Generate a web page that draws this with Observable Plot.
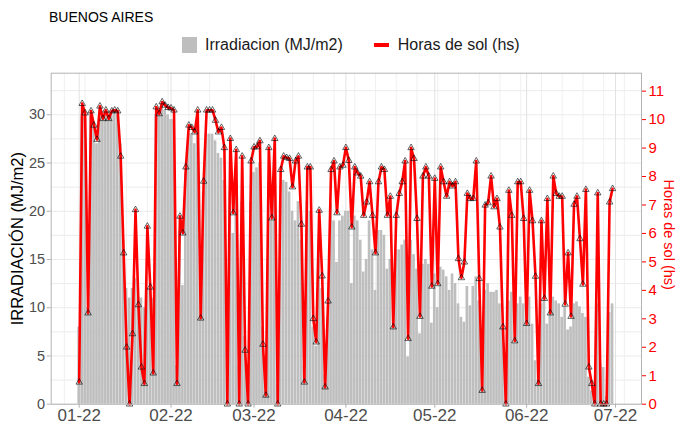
<!DOCTYPE html>
<html><head><meta charset="utf-8">
<script src="https://cdn.jsdelivr.net/npm/d3@7"></script>
<script src="https://cdn.jsdelivr.net/npm/@observablehq/plot@0.6"></script>
<style>
body{margin:0;background:#fff;font-family:"Liberation Sans",Arial,Helvetica,sans-serif;}
#wrap{position:relative;width:676px;height:425px;overflow:hidden;}
#title{position:absolute;left:49px;top:9px;font-size:14px;color:#000;}
#legend{position:absolute;top:36px;left:182px;height:18px;display:flex;align-items:center;font-size:16px;color:#1a1a1a;white-space:nowrap;}
#legend .sw{display:inline-block;width:15px;height:16px;background:#bebebe;margin-right:8px;}
#legend .ln{display:inline-block;width:15px;height:4px;background:#ff0000;margin-left:31px;margin-right:9px;}
#chart{position:absolute;left:0;top:65px;}
</style></head>
<body>
<div id="wrap">
  <div id="title">BUENOS AIRES</div>
  <div id="legend"><span class="sw"></span><span>Irradiacion (MJ/m2)</span><span class="ln"></span><span>Horas de sol (hs)</span></div>
  <div id="chart"></div>
</div>
<script>
// ---- data (daily, starting 2022-01-01) ----
const startDate = "2022-01-01";
const irradiacion = [
 8,30,30,10,30,29,27,30,29.5,30,29.5,30,30.5,30,27,17,12,11,12,13,11,11,10,12,12,11,30,30,31,30.5,30,
 29.5,29.5,4,18,12.3,24,28,28,27,29,12,22,28,28,28,27.3,26,25.5,23.2,6,22,17.7,22,4,21,7,3,21,
 24,24.5,25,8,3,23,19,24,2,21,23.2,23,22,20,19,21,17,4,21,20,8,6,17,12,3,9,20.8,19,14.7,19,19.5,
 20,20,12.5,19.5,19,17,13.7,15,19,16,11.8,18,18,17.5,14,15,8,16,16,16.5,17,4.9,17,15.5,14,7.3,14.5,15,14.5,8.4,
 13.5,10,14.2,13.9,13.2,11.8,13.5,12.5,10.4,9,8.5,12.2,10.2,12.2,13.2,10.7,4.9,11.8,12.5,11.6,11.6,11.8,10.4,8,5.2,10.7,11.6,6.3,10.4,11.1,10.4,
 8.3,11.1,8.3,4.5,2.5,10.4,11.1,8.3,9.7,11.1,10.7,10.4,9,10.1,7.7,8,10.4,10.6,10.1,9.4,9,2.8,1.4,0.4,10.4,4.2,3.8,0.8,9.5,10.4
];
const horasSol = [
 0.77,10.56,10.23,3.2,10.3,9.8,9.3,10.47,10.03,10.33,10.03,10.3,10.33,10.3,8.71,5.31,2.0,0,2.47,6.83,3.49,1.3,0.72,6.25,4.11,1.09,10.44,10.2,10.62,10.5,10.42,
 10.4,10.33,0.72,6.6,6.01,8.33,9.8,9.72,9.56,10.33,3.02,7.83,10.33,10.33,10.33,9.97,9.56,9.72,9.01,0,9.33,6.72,8.94,0,8.71,1.89,0,8.54,
 9.03,9.04,9.25,2.1,0.31,9.01,6.54,9.33,0,8.24,8.71,8.66,8.63,7.63,8.54,8.71,6.32,0.77,8.33,8.33,3.0,2.18,6.81,4.5,0.6,3.62,8.24,8.54,6.72,8.33,8.39,
 9.01,8.56,6.22,8.33,8.12,8.01,6.63,7.1,7.81,6.63,5.31,7.81,8.33,8.24,6.63,7.3,2.71,6.63,7.4,7.81,8.54,2.3,9.01,8.63,6.52,3.08,8.01,8.33,8.01,4.14,
 7.93,4.23,8.33,7.81,7.3,7.81,7.66,7.81,5.11,4.44,4.99,7.4,7.22,7.22,8.54,4.41,0.48,6.99,7.07,8.01,6.93,7.22,6.22,2.71,0,7.51,6.63,2.22,7.81,7.81,6.52,
 2.83,7.51,6.44,4.49,0.72,6.44,3.71,7.22,3.2,8.01,7.4,7.3,7.3,3.51,5.31,3.08,7.02,7.3,5.81,4.21,7.54,1.3,0.72,0,7.42,0,0,0,7.1,7.57
];
const xTickDates = ["2022-01-01","2022-02-01","2022-03-01","2022-04-01","2022-05-01","2022-06-01","2022-07-01"];
const xTickLabels = ["01-22","02-22","03-22","04-22","05-22","06-22","07-22"];
const yTicks = [0,5,10,15,20,25,30];
const hourTicks = [0,1,2,3,4,5,6,7,8,9,10,11];
const k = 2.95; // secondary axis ratio (MJ per hour)

const DAY = 864e5;
const t0 = +new Date(startDate + "T00:00:00Z");
const data = irradiacion.map((v, i) => ({date: new Date(t0 + i * DAY), irr: v, hs: horasSol[i]}));
const xDomain = [new Date(t0 - 9.45 * DAY), new Date(t0 + 189.77 * DAY)];
const tickDates = xTickDates.map(s => new Date(s + "T00:00:00Z"));
const mondays = d3.utcMonday.range(xDomain[0], xDomain[1]);

const chart = Plot.plot({
  width: 676, height: 360,
  marginLeft: 50.7, marginRight: 35, marginTop: 7.7, marginBottom: 21.3,
  x: {type: "utc", domain: xDomain},
  y: {domain: [0, 34.31]},
  style: {fontFamily: '"Liberation Sans",Arial,Helvetica,sans-serif', background: "white", overflow: "visible"},
  marks: [
    Plot.gridY(d3.range(0, 34.3, 2.5), {stroke: "#e6e6e6", strokeOpacity: 1, strokeWidth: 0.8}),
    Plot.gridX(mondays, {stroke: "#ececec", strokeOpacity: 1, strokeWidth: 0.8}),
    Plot.gridX(tickDates, {stroke: "#e2e2e2", strokeOpacity: 1, strokeWidth: 1}),
    Plot.rectY(data, {x1: d => new Date(+d.date - 0.45 * DAY), x2: d => new Date(+d.date + 0.45 * DAY), y: "irr", fill: "#bebebe"}),
    Plot.line(data, {x: "date", y: d => d.hs * k, stroke: "#ff0000", strokeWidth: 2.6, strokeLinejoin: "round"}),
    Plot.dot(data, {x: "date", y: d => d.hs * k, symbol: "triangle", r: 2.4, stroke: "#000", strokeWidth: 0.6, fill: "none"}),
    Plot.frame({stroke: "#b3b3b3"}),
    Plot.axisY(yTicks, {anchor: "left", tickSize: 4, tickPadding: 2, stroke: "#b3b3b3", color: "#4d4d4d", fontSize: 14.5, label: null}),
    Plot.axisY(hourTicks.map(h => h * k), {anchor: "right", tickSize: 4, tickPadding: 3, stroke: "#ff0000", color: "#ff0000", fontSize: 15, tickFormat: d => String(Math.round(d / k)), label: null}),
    Plot.axisX(tickDates, {anchor: "bottom", tickSize: 4, tickPadding: 1, stroke: "#b3b3b3", color: "#4d4d4d", fontSize: 17, tickFormat: (d, i) => xTickLabels[i], label: null}),
    Plot.text(["IRRADIACIÓN (MJ/m2)"], {frameAnchor: "left", textAnchor: "middle", dx: -33.7, rotate: -90, fontSize: 16.5, fill: "#000"}),
    Plot.text(["Horas de sol (hs)"], {frameAnchor: "right", textAnchor: "middle", dx: 27, dy: -4, rotate: 90, fontSize: 14.5, fill: "#ff0000"})
  ]
});
document.getElementById("chart").appendChild(chart);
</script>
</body></html>
